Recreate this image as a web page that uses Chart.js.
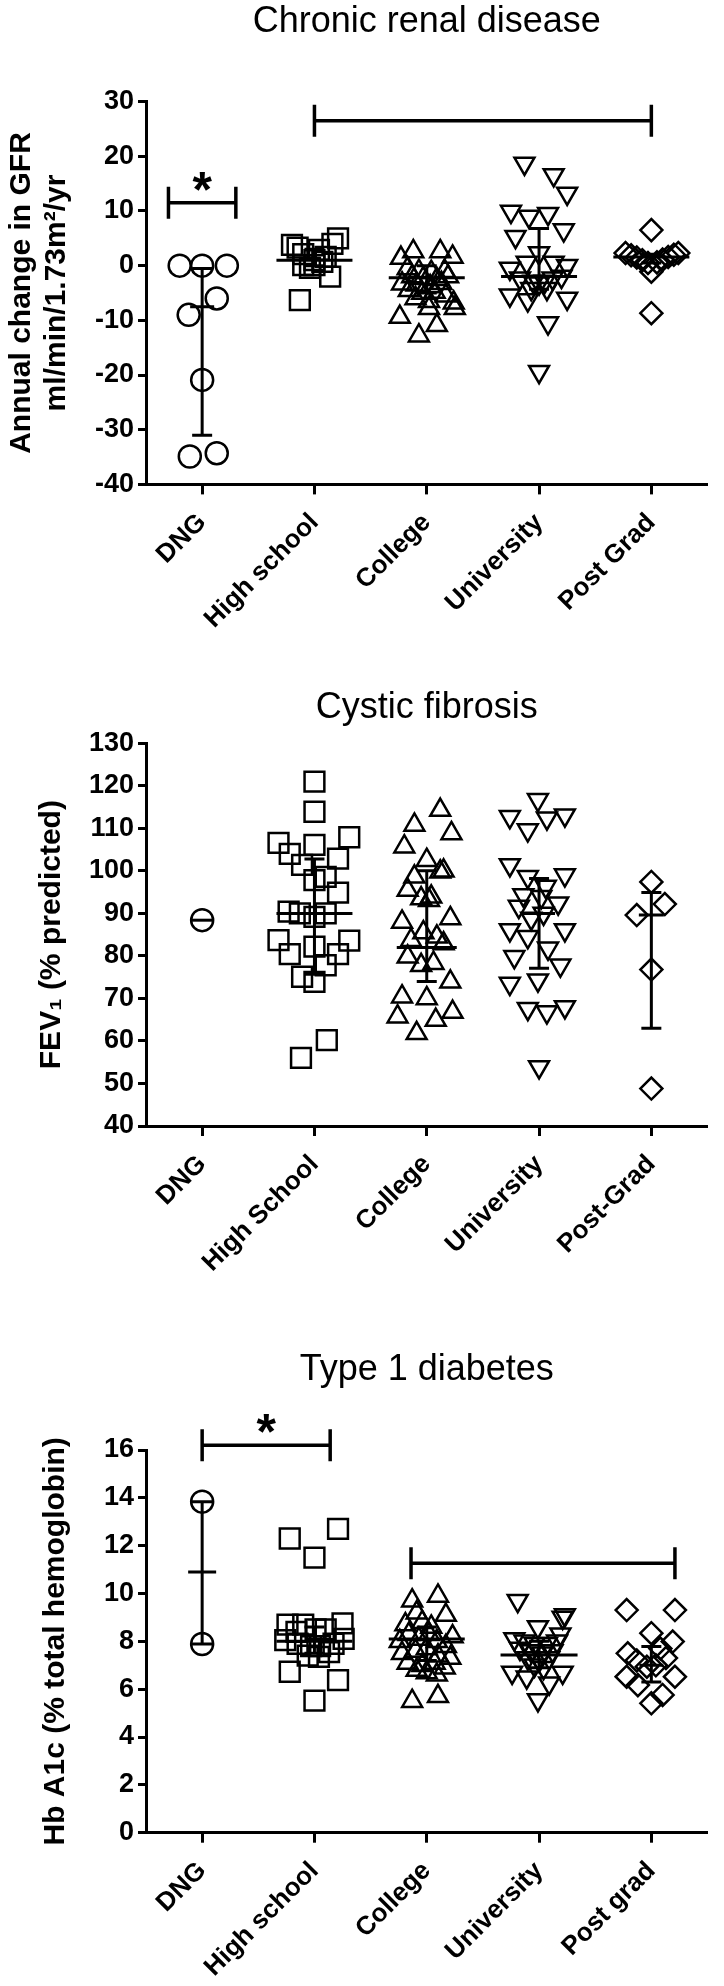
<!DOCTYPE html>
<html>
<head>
<meta charset="utf-8">
<title>Education level and disease outcomes</title>
<script src="https://cdn.jsdelivr.net/npm/chart.js@4.4.1/dist/chart.umd.min.js"></script>
<style>
  body { margin: 0; background: #fff; }
  #page { position: relative; width: 724px; height: 1986px; overflow: hidden; }
  .panel { position: absolute; left: 0; }
</style>
</head>
<body>
<div id="page">
  <div class="panel" style="top:0"><canvas id="crd" width="724" height="640"></canvas></div>
  <div class="panel" style="top:640px"><canvas id="cf" width="724" height="660"></canvas></div>
  <div class="panel" style="top:1300px"><canvas id="t1d" width="724" height="686"></canvas></div>
</div>
<script>
var FONT = '"Liberation Sans", Arial, Helvetica, sans-serif';

// each point is [sideways scatter offset in group widths, value]

// Chronic renal disease - annual change in GFR
var crdGroups = ['DNG', 'High school', 'College', 'University', 'Post Grad'];
var crdTicks = [-40, -30, -20, -10, 0, 10, 20, 30];
var crdDng = [[-0.2, 0], [0, 0], [0.22, 0], [0.13, -6], [-0.12, -9], [0, -20.9], [-0.11, -34.9], [0.13, -34.3]];
var crdHigh = [[-0.2, 3.8], [-0.15, 3.3], [0.21, 5.0], [0.16, 4.0], [0.04, 2.9], [-0.1, 2.1], [0, 1.0], [0.1, 1.6],
  [-0.1, 0.1], [0, 0.1], [0.07, 0.7], [-0.04, -0.4], [0.14, -2.0], [-0.13, -6.3]];
var crdCollege = [[-0.23, 1.4], [-0.12, 2.6], [0.12, 2.6], [0.23, 1.6], [-0.17, -0.5], [-0.07, -1.0], [0.04, -1.2],
  [0.16, -1.0], [-0.13, -2.0], [-0.03, -2.3], [0.09, -2.5], [0.19, -2.0], [-0.22, -3.3], [-0.09, -3.5], [0.03, -3.8],
  [0.13, -3.2], [-0.16, -4.5], [-0.04, -5.0], [0.07, -4.8], [0.17, -5.5], [-0.1, -6.0], [0.02, -6.5], [0.24, -6.8],
  [0.02, -7.8], [-0.24, -9.4], [0.09, -10.9], [0.25, -7.8], [-0.07, -12.8]];
var crdUniversity = [[-0.13, 18.7], [0.13, 16.6], [0.25, 13.2], [-0.25, 9.9], [-0.09, 9.0], [0.08, 9.5], [0.22, 6.5],
  [-0.21, 5.3], [0, 2.3], [-0.26, -0.5], [0.25, 0.0], [-0.11, 0.6], [0.13, 0.6], [-0.17, -2.3], [-0.05, -2.9],
  [0, -3.2], [0.05, -2.9], [0.12, -2.3], [0.2, -2.0], [-0.07, -4.2], [0.07, -4.2], [-0.26, -5.4], [-0.1, -6.3],
  [0.25, -6.0], [0.08, -10.5], [0, -19.4]];
var crdPostGrad = [[0, 6.5], [-0.23, 2.3], [-0.18, 1.9], [-0.13, 1.5], [-0.08, 1.0], [-0.03, 0.5], [0.05, 0.6],
  [0.1, 1.1], [0.15, 1.6], [0.2, 2.0], [0.24, 2.3], [0, -1.1], [0, -8.7]];
var crdMedian = [-7.5, 1.0, -2.2, -2.0, 1.6];
var crdLower = [-31, 0, -5, -4.3, 0.5];
var crdUpper = [-0.5, 3, 0, 6.8, 2.1];
// [from group, to group, height, mark]
var crdBrackets = [[-0.3, 0.3, 11.5, '*'], [1, 4, 26.5, '']];

// Cystic fibrosis - FEV1 % predicted
var cfGroups = ['DNG', 'High School', 'College', 'University', 'Post-Grad'];
var cfTicks = [40, 50, 60, 70, 80, 90, 100, 110, 120, 130];
var cfDng = [[0, 88.4]];
var cfHigh = [[0, 121.0], [0, 113.9], [-0.32, 106.6], [0, 106.1], [0.31, 107.9], [-0.22, 104.0], [0.21, 102.9],
  [-0.11, 101.4], [0, 97.8], [0.1, 98.6], [0.21, 94.9], [-0.23, 90.4], [-0.13, 90.0], [0, 89.2], [0.1, 90.0],
  [-0.32, 83.7], [0, 82.2], [0.31, 83.6], [-0.22, 80.4], [0.21, 80.4], [0.1, 77.8], [-0.11, 75.1], [0, 73.9],
  [0.11, 60.2], [-0.12, 56.0]];
var cfCollege = [[0.12, 114.3], [-0.11, 110.8], [0.22, 108.8], [-0.2, 105.7], [0, 102.5], [0.15, 100.0],
  [-0.11, 98.6], [0.12, 99.8], [-0.17, 95.5], [0.04, 93.9], [-0.05, 93.5], [0.21, 88.8], [-0.22, 88.0],
  [-0.14, 83.7], [0.09, 84.5], [0.15, 82.9], [-0.17, 79.8], [-0.05, 77.8], [0.06, 78.3], [0.21, 73.9],
  [-0.22, 70.4], [0, 70.0], [0.23, 66.8], [-0.26, 65.7], [0.08, 64.9], [-0.09, 61.8], [0.02, 93.1], [-0.03, 85.5]];
var cfUniversity = [[-0.01, 116.7], [-0.26, 112.7], [0.23, 113.1], [0.07, 112.4], [-0.1, 109.6], [-0.26, 101.4],
  [0.23, 99.0], [-0.1, 98.6], [0.06, 96.3], [-0.14, 94.3], [0.02, 93.9], [0.17, 92.4], [-0.18, 91.6], [0.04, 90.0],
  [-0.07, 88.8], [-0.26, 86.1], [0.23, 86.1], [-0.1, 84.5], [0.08, 81.8], [-0.22, 79.8], [0.19, 77.8],
  [-0.26, 73.5], [-0.01, 74.3], [-0.1, 67.6], [0.07, 66.8], [0.23, 68.0], [0, 53.9]];
var cfPostGrad = [[0, 97.4], [0.12, 92.2], [-0.13, 89.6], [0, 76.8], [0, 48.8]];
var cfMedian = [88.4, 90.0, 82.0, 90.0, 89.6];
var cfLower = [88.4, 75.7, 74.0, 77.1, 63.0];
var cfUpper = [88.4, 102.8, 100.0, 98.2, 94.9];
var cfBrackets = [];

// Type 1 diabetes - Hb A1c
var t1dGroups = ['DNG', 'High school', 'College', 'University', 'Post grad'];
var t1dTicks = [0, 2, 4, 6, 8, 10, 12, 14, 16];
var t1dDng = [[0, 13.84], [0, 7.89]];
var t1dHigh = [[-0.22, 12.3], [0.21, 12.7], [0, 11.5], [-0.24, 8.7], [-0.1, 8.7], [0.25, 8.75], [0.1, 8.5],
  [-0.26, 8.05], [-0.15, 7.9], [-0.03, 7.8], [0.05, 7.8], [0.17, 7.9], [0.26, 8.1], [-0.06, 7.4], [0.04, 7.35],
  [0.13, 7.55], [-0.16, 8.4], [0.01, 8.5], [-0.22, 6.73], [0.21, 6.38], [0, 5.52]];
var t1dCollege = [[-0.13, 9.7], [0.1, 9.9], [0.17, 9.1], [-0.09, 9.2], [-0.19, 8.7], [-0.04, 8.8], [0.04, 8.6],
  [0.23, 8.2], [-0.24, 8.0], [-0.16, 8.3], [-0.07, 8.1], [0.02, 8.3], [0.09, 8.0], [0.17, 7.8], [-0.22, 7.5],
  [-0.1, 7.6], [0, 7.7], [0.1, 7.4], [0.21, 7.3], [-0.17, 7.1], [-0.04, 7.0], [0.07, 7.1], [0.16, 6.9],
  [-0.09, 6.8], [0, 6.7], [0.09, 6.6], [-0.13, 5.5], [0.1, 5.7]];
var t1dUniversity = [[-0.19, 9.7], [0.23, 9.1], [0.21, 9.0], [-0.01, 8.6], [0.19, 8.3], [-0.22, 8.1], [-0.13, 8.0],
  [-0.04, 7.9], [0.07, 7.9], [0.16, 8.0], [-0.17, 7.7], [-0.07, 7.6], [0.03, 7.5], [0.12, 7.6], [-0.1, 7.3],
  [0, 7.2], [0.09, 7.3], [-0.24, 6.7], [-0.11, 6.5], [0.21, 6.7], [0.09, 6.25], [-0.01, 5.55], [0.04, 6.9],
  [-0.04, 7.0]];
var t1dPostGrad = [[-0.22, 9.31], [0.21, 9.31], [0, 8.34], [0.19, 7.99], [-0.21, 7.5], [-0.13, 7.2], [-0.04, 6.94],
  [0.04, 7.0], [0.13, 7.3], [-0.22, 6.52], [0.21, 6.52], [-0.12, 6.17], [0.1, 5.76], [0, 5.41], [0.08, 7.7]];
var t1dMedian = [10.9, 8.0, 8.1, 7.43, 7.0];
var t1dLower = [7.89, 7.5, 7.2, 6.9, 6.3];
var t1dUpper = [13.84, 8.6, 8.6, 8.0, 7.78];
var t1dBrackets = [[0, 1.14, 16.2, '*'], [1.86, 4.21, 11.26, '']];

// open markers, one per education group
var markers = [
  { style: 'circle', radius: 11, rotation: 0 },
  { style: 'rect', radius: 14, rotation: 0 },
  { style: 'triangle', radius: 11.5, rotation: 0 },
  { style: 'triangle', radius: 11.5, rotation: 180 },
  { style: 'rectRot', radius: 11, rotation: 0 }
];

function buildChart(id, c) {
  var datasets = c.series.map(function (pts, g) {
    var m = markers[g];
    return {
      data: pts.map(function (p) { return { x: g + p[0], y: p[1] }; }),
      pointStyle: m.style,
      pointRadius: m.radius,
      pointRotation: m.rotation,
      pointBorderWidth: 2.5,
      pointBorderColor: '#000',
      pointBackgroundColor: 'rgba(255,255,255,0)',
      showLine: false
    };
  });

  // median + interquartile bars and the significance brackets
  var stats = {
    id: 'stats_' + id,
    afterDatasetsDraw: function (chart) {
      var ctx = chart.ctx, xs = chart.scales.x, ys = chart.scales.y;
      ctx.save();
      ctx.strokeStyle = '#000';
      ctx.fillStyle = '#000';
      ctx.lineWidth = 3;
      c.median.forEach(function (m, i) {
        var x = xs.getPixelForValue(i);
        var lo = ys.getPixelForValue(c.lower[i]);
        var hi = ys.getPixelForValue(c.upper[i]);
        var md = ys.getPixelForValue(m);
        var cw = c.capWidth[i] / 2, mw = c.medWidth[i] / 2;
        ctx.beginPath();
        if (c.lower[i] !== c.upper[i]) {
          ctx.moveTo(x, lo); ctx.lineTo(x, hi);
          ctx.moveTo(x - cw, lo); ctx.lineTo(x + cw, lo);
          ctx.moveTo(x - cw, hi); ctx.lineTo(x + cw, hi);
        }
        ctx.moveTo(x - mw, md); ctx.lineTo(x + mw, md);
        ctx.stroke();
      });
      ctx.lineWidth = 3.5;
      c.brackets.forEach(function (b) {
        var x1 = xs.getPixelForValue(b[0]), x2 = xs.getPixelForValue(b[1]);
        var y = ys.getPixelForValue(b[2]);
        ctx.beginPath();
        ctx.moveTo(x1, y); ctx.lineTo(x2, y);
        ctx.moveTo(x1, y - 16); ctx.lineTo(x1, y + 16);
        ctx.moveTo(x2, y - 16); ctx.lineTo(x2, y + 16);
        ctx.stroke();
        if (b[3]) {
          ctx.font = 'bold 50px ' + FONT;
          ctx.textAlign = 'center';
          ctx.textBaseline = 'alphabetic';
          ctx.fillText(b[3], (x1 + x2) / 2, y + 4);
        }
      });
      ctx.restore();
    }
  };

  return new Chart(document.getElementById(id), {
    type: 'scatter',
    data: { datasets: datasets },
    options: {
      responsive: false,
      animation: false,
      events: [],
      layout: { padding: { left: 0, right: 2, top: 0, bottom: 0 } },
      plugins: {
        legend: { display: false },
        tooltip: { enabled: false },
        title: {
          display: true,
          text: c.title,
          color: '#000',
          fullSize: false,
          font: { family: FONT, size: 36, weight: 'normal', lineHeight: 1.2 },
          padding: { top: c.titleTop, bottom: c.titleBottom }
        }
      },
      scales: {
        x: {
          type: 'linear',
          min: -0.5,
          max: 4.5,
          afterBuildTicks: function (s) {
            s.ticks = c.groups.map(function (g, i) { return { value: i }; });
          },
          afterFit: function (s) { s.height = c.xHeight; },
          ticks: {
            autoSkip: false,
            minRotation: 45,
            maxRotation: 45,
            padding: 13,
            color: '#000',
            font: { family: FONT, size: 26, weight: 'bold' },
            callback: function (v) { return c.groups[v]; }
          },
          grid: { drawOnChartArea: false, drawTicks: true, tickLength: 10, tickWidth: 3, tickColor: '#000' },
          border: { display: true, color: '#000', width: 3 }
        },
        y: {
          min: c.ticks[0],
          max: c.ticks[c.ticks.length - 1],
          afterBuildTicks: function (s) {
            s.ticks = c.ticks.map(function (v) { return { value: v }; });
          },
          afterFit: function (s) { s.width = 146; },
          ticks: {
            padding: 4,
            color: '#000',
            font: { family: FONT, size: 27, weight: 'bold' }
          },
          grid: { drawOnChartArea: false, drawTicks: true, tickLength: 8, tickWidth: 3, tickColor: '#000' },
          border: { display: true, color: '#000', width: 3 },
          title: {
            display: true,
            text: c.yTitle,
            color: '#000',
            font: { family: FONT, size: 30, weight: 'bold', lineHeight: 1.15 },
            padding: { top: c.yTitlePad, bottom: 0 }
          }
        }
      }
    },
    plugins: [stats]
  });
}

buildChart('crd', {
  title: 'Chronic renal disease',
  yTitle: ['Annual change in GFR', 'ml/min/1.73m\u00b2/yr'],
  groups: crdGroups, ticks: crdTicks,
  series: [crdDng, crdHigh, crdCollege, crdUniversity, crdPostGrad],
  median: crdMedian, lower: crdLower, upper: crdUpper, brackets: crdBrackets,
  medWidth: [24, 76, 76, 76, 76], capWidth: [20, 20, 20, 20, 20],
  titleTop: 0, titleBottom: 58.4, xHeight: 155.6, yTitlePad: 4.5
});

buildChart('cf', {
  title: 'Cystic fibrosis',
  yTitle: 'FEV\u2081 (% predicted)',
  groups: cfGroups, ticks: cfTicks,
  series: [cfDng, cfHigh, cfCollege, cfUniversity, cfPostGrad],
  median: cfMedian, lower: cfLower, upper: cfUpper, brackets: cfBrackets,
  medWidth: [22, 76, 60, 32, 25], capWidth: [20, 20, 20, 20, 20],
  titleTop: 46.4, titleBottom: 13.7, xHeight: 174, yTitlePad: 34
});

buildChart('t1d', {
  title: 'Type 1 diabetes',
  yTitle: 'Hb A1c (% total hemoglobin)',
  groups: t1dGroups, ticks: t1dTicks,
  series: [t1dDng, t1dHigh, t1dCollege, t1dUniversity, t1dPostGrad],
  median: t1dMedian, lower: t1dLower, upper: t1dUpper, brackets: t1dBrackets,
  medWidth: [28, 76, 76, 77, 24], capWidth: [22, 20, 20, 20, 20],
  titleTop: 48.4, titleBottom: 58.4, xHeight: 153.3, yTitlePad: 38
});
</script>
</body>
</html>
